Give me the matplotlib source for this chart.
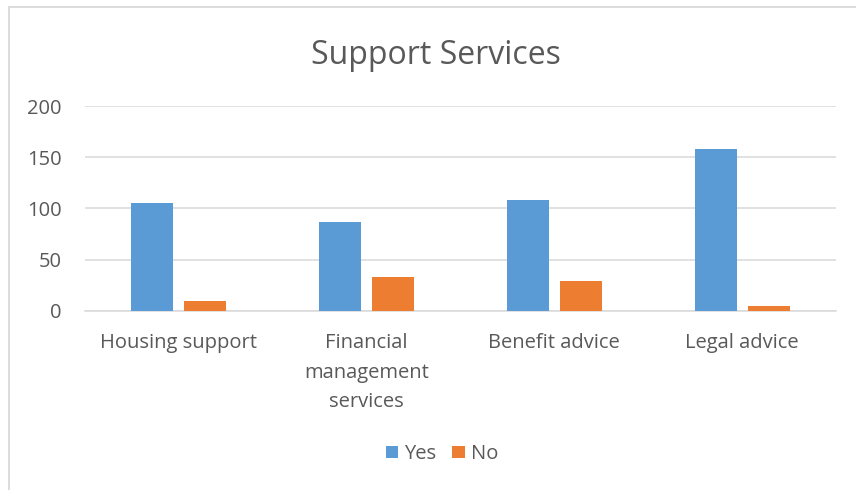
import numpy as np
import matplotlib.pyplot as plt
from matplotlib.patches import Rectangle

categories = ['Housing support', 'Financial\nmanagement\nservices', 'Benefit advice', 'Legal advice']
yes_vals = [105, 87, 108, 158]
no_vals = [10, 33, 29, 5]

plt.rcParams['font.family'] = ['Open Sans', 'DejaVu Sans']
txt = '#595959'

fig = plt.figure(figsize=(8.56, 4.90), dpi=100)
# light frame around the chart, like the Excel chart area (right/bottom edges cropped off)
fig.patches.append(Rectangle((8.5 / 856, -0.1), 1.2, 1.1 - 7.5 / 490, transform=fig.transFigure,
                             fill=False, edgecolor='#D9D9D9', linewidth=1.3))

ax = fig.add_axes([85 / 856, 1 - 311 / 490, 751 / 856, 205 / 490])
x = np.arange(len(categories))
w = 0.224
off = 0.141
ax.bar(x - off, yes_vals, w, color='#5B9BD5', label='Yes', zorder=3)
ax.bar(x + off, no_vals, w, color='#ED7D31', label='No', zorder=3)

ax.set_xlim(-0.5, 3.5)
ax.set_ylim(0, 200)
ax.set_yticks([0, 50, 100, 150, 200])
ax.yaxis.grid(True, color='#D9D9D9', linewidth=1.1, zorder=0)
for s in ['top', 'right', 'left']:
    ax.spines[s].set_visible(False)
ax.spines['bottom'].set_color('#D9D9D9')
ax.spines['bottom'].set_linewidth(1.1)
ax.tick_params(axis='both', length=0, labelcolor=txt, labelsize=14.5)
ax.tick_params(axis='y', pad=17)
ax.tick_params(axis='x', pad=16)
ax.set_xticks(x)
ax.set_xticklabels(categories, linespacing=1.62, va='top')

fig.text(436 / 856, 1 - 55 / 490, 'Support Services', ha='center', va='center',
         fontsize=23, color=txt)

fig.legend(loc='center', bbox_to_anchor=(442 / 856, 1 - 454 / 490), ncol=2, frameon=False,
           fontsize=14.5, labelcolor=txt, handlelength=0.6, handleheight=0.6,
           handletextpad=0.3, columnspacing=0.8)

fig.savefig('out.png', dpi=100)
